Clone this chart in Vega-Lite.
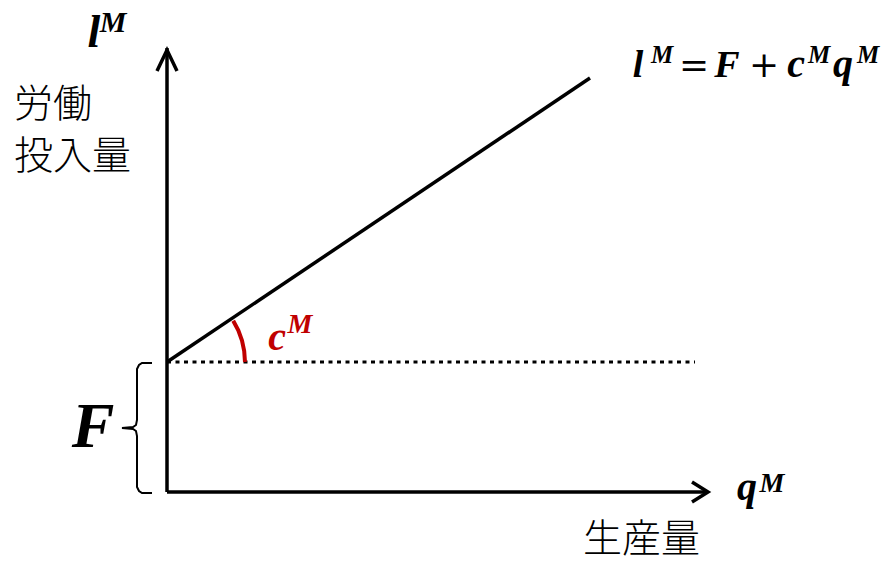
{
  "$schema": "https://vega.github.io/schema/vega-lite/v6.json",
  "autosize": {"type": "fit", "contains": "padding"},
  "width": 882,
  "height": 561,
  "padding": 0,
  "background": "white",
  "config": {"view": {"stroke": null}},
  "datasets": {
    "lines": [
      {"seg": "yaxis", "ord": 0, "x": 0, "y": 0},
      {"seg": "yaxis", "ord": 1, "x": 0, "y": 444},
      {"seg": "yarrow", "ord": 0, "x": -10, "y": 421},
      {"seg": "yarrow", "ord": 1, "x": 0, "y": 442},
      {"seg": "yarrow", "ord": 2, "x": 10, "y": 421},
      {"seg": "xaxis", "ord": 0, "x": 0, "y": 0},
      {"seg": "xaxis", "ord": 1, "x": 540, "y": 0},
      {"seg": "xarrow", "ord": 0, "x": 525, "y": 10},
      {"seg": "xarrow", "ord": 1, "x": 541, "y": 0},
      {"seg": "xarrow", "ord": 2, "x": 525, "y": -10},
      {"seg": "cost", "ord": 0, "x": 0, "y": 130},
      {"seg": "cost", "ord": 1, "x": 423, "y": 414}
    ],
    "dotted": [
      {"x": 0, "y": 130},
      {"x": 528, "y": 130}
    ],
    "brace": [
      {"ord": 0, "x": -15, "y": 129},
      {"ord": 1, "x": -25, "y": 129},
      {"ord": 2, "x": -28, "y": 127},
      {"ord": 3, "x": -30, "y": 123},
      {"ord": 4, "x": -30, "y": 72},
      {"ord": 5, "x": -31, "y": 67},
      {"ord": 6, "x": -34, "y": 65},
      {"ord": 7, "x": -45, "y": 64},
      {"ord": 8, "x": -34, "y": 63},
      {"ord": 9, "x": -31, "y": 61},
      {"ord": 10, "x": -30, "y": 56},
      {"ord": 11, "x": -30, "y": 5},
      {"ord": 12, "x": -28, "y": 1},
      {"ord": 13, "x": -25, "y": -1},
      {"ord": 14, "x": -15, "y": -1}
    ],
    "arc": [
      {"ord": 0, "x": 78, "y": 130},
      {"ord": 1, "x": 77.2, "y": 141},
      {"ord": 2, "x": 75, "y": 151.5},
      {"ord": 3, "x": 71.3, "y": 161.7},
      {"ord": 4, "x": 66.2, "y": 171.3}
    ],
    "mathBig": [
      {"t": "l", "x": -73, "y": 445, "s": 46},
      {"t": "F", "x": -74, "y": 45, "s": 64},
      {"t": "q", "x": 580, "y": -8, "s": 40},
      {"t": "l", "x": 471, "y": 415, "s": 38},
      {"t": "F", "x": 560, "y": 415, "s": 38},
      {"t": "c", "x": 629, "y": 415, "s": 40},
      {"t": "q", "x": 676, "y": 415, "s": 40},
      {"t": "M", "x": -54, "y": 460, "s": 30},
      {"t": "M", "x": 605, "y": 0, "s": 28},
      {"t": "M", "x": 495, "y": 429, "s": 25},
      {"t": "M", "x": 652, "y": 429, "s": 25},
      {"t": "M", "x": 701, "y": 429, "s": 25}
    ],
    "ops": [
      {"t": "=", "x": 527, "y": 415},
      {"t": "+", "x": 597, "y": 415}
    ],
    "mathRed": [
      {"t": "c", "x": 110, "y": 142, "s": 40},
      {"t": "M", "x": 133, "y": 159, "s": 28}
    ],
    "cjk": [
      {"t": "労働", "x": -153, "y": 387},
      {"t": "投入量", "x": -153, "y": 335},
      {"t": "生産量", "x": 416, "y": -48}
    ]
  },
  "encoding": {
    "x": {"field": "x", "type": "quantitative", "scale": {"domain": [-167, 715], "nice": false, "zero": false}, "axis": null},
    "y": {"field": "y", "type": "quantitative", "scale": {"domain": [-69, 492], "nice": false, "zero": false}, "axis": null}
  },
  "layer": [
    {
      "data": {"name": "lines"},
      "mark": {"type": "line", "color": "black", "strokeWidth": 3.5, "strokeJoin": "miter", "strokeCap": "butt"},
      "encoding": {
        "detail": {"field": "seg", "type": "nominal"},
        "order": {"field": "ord", "type": "quantitative"}
      }
    },
    {
      "data": {"name": "dotted"},
      "mark": {"type": "line", "color": "black", "strokeWidth": 3, "strokeDash": [4, 4.5]},
      "encoding": {}
    },
    {
      "data": {"name": "brace"},
      "mark": {"type": "line", "color": "black", "strokeWidth": 2, "interpolate": "linear"},
      "encoding": {"order": {"field": "ord", "type": "quantitative"}}
    },
    {
      "data": {"name": "arc"},
      "mark": {"type": "line", "color": "#C00000", "strokeWidth": 4, "strokeCap": "butt"},
      "encoding": {"order": {"field": "ord", "type": "quantitative"}}
    },
    {
      "data": {"name": "mathBig"},
      "mark": {"type": "text", "color": "black", "font": "Liberation Serif", "fontStyle": "italic", "fontWeight": "bold", "align": "center", "baseline": "alphabetic"},
      "encoding": {
        "text": {"field": "t"},
        "size": {"field": "s", "type": "quantitative", "scale": null}
      }
    },
    {
      "data": {"name": "ops"},
      "mark": {"type": "text", "color": "black", "font": "DejaVu Serif", "fontSize": 36, "align": "center", "baseline": "alphabetic"},
      "encoding": {"text": {"field": "t"}}
    },
    {
      "data": {"name": "mathRed"},
      "mark": {"type": "text", "color": "#C00000", "font": "Liberation Serif", "fontStyle": "italic", "fontWeight": "bold", "align": "center", "baseline": "alphabetic"},
      "encoding": {
        "text": {"field": "t"},
        "size": {"field": "s", "type": "quantitative", "scale": null}
      }
    },
    {
      "data": {"name": "cjk"},
      "mark": {"type": "text", "color": "black", "font": "Noto Sans CJK JP", "fontWeight": 300, "fontSize": 39, "align": "left", "baseline": "middle"},
      "encoding": {"text": {"field": "t"}}
    }
  ]
}
